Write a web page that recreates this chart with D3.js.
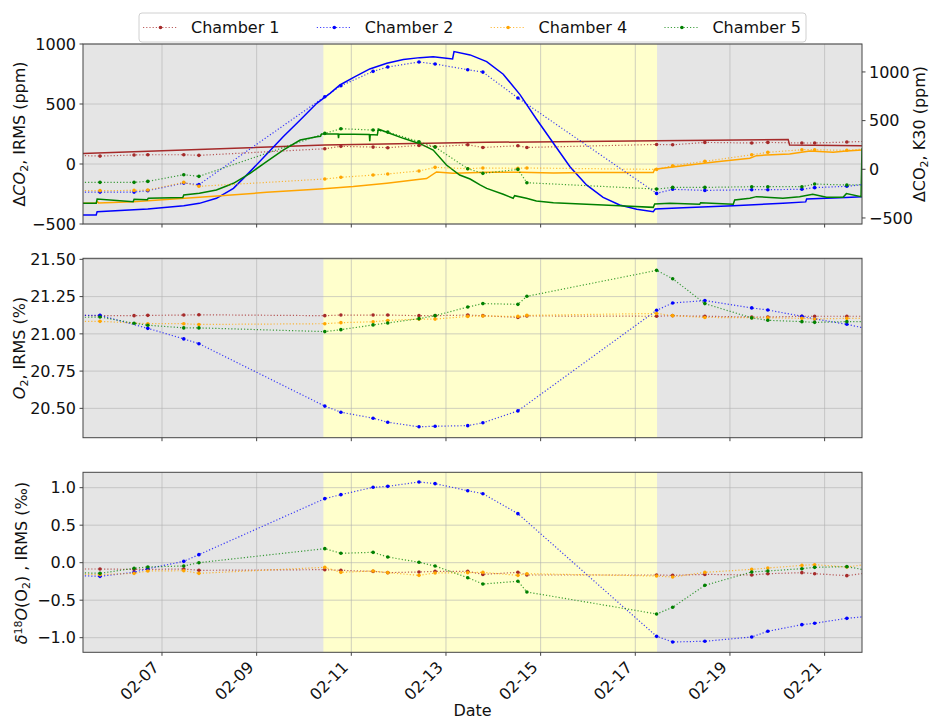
<!DOCTYPE html>
<html><head><meta charset="utf-8">
<script src="https://cdn.jsdelivr.net/npm/d3@7"></script>
<style>body{margin:0;background:#fff;} svg{display:block;font-family:"DejaVu Sans",sans-serif;}</style>
</head><body><svg id="c" width="931" height="719"></svg>
<script>
// ---------------- DATA ----------------
const chambers = ["Chamber 1", "Chamber 2", "Chamber 4", "Chamber 5"];
const chamberColors = ["#a52a2a", "#0000ff", "#ffa500", "#008000"];
// sample times (fractional day of February); first and last lie just outside the view
const sampleDays = [5.1, 5.69, 6.41, 6.70, 7.46, 7.78, 10.44, 10.78, 11.46, 11.77, 12.43, 12.77, 13.46, 13.78, 14.52, 14.71, 17.45, 17.79, 18.47, 19.46, 19.80, 20.52, 20.79, 21.47, 22.1];
// ΔCO2 IRMS (ppm)
const co2Irms1 = [72, 66, 75, 77, 77, 72, 127, 147, 141, 136, 155, 144, 160, 138, 152, 138, 163, 160, 180, 175, 180, 175, 175, 183, 192];
const co2Irms2 = [-234, -234, -234, -222, -159, -172, 561, 652, 772, 808, 850, 833, 786, 766, 550, null, -245, -211, -220, -214, -214, -211, -197, -186, -160];
const co2Irms4 = [-220, -222, -220, -217, -153, -186, -125, -111, -92, -83, -58, -28, -39, -33, -36, -33, -45, -14, 22, 77, 97, 119, 119, 114, 135];
const co2Irms5 = [-153, -153, -153, -145, -89, -103, 255, 294, 283, 266, 186, 141, -39, -78, -45, -156, -209, -195, -195, -189, -189, -189, -167, -175, -170];
// O2 IRMS (%)
const o2Irms1 = [21.125, 21.122, 21.122, 21.124, 21.126, 21.128, 21.122, 21.126, 21.126, 21.126, 21.122, 21.122, 21.126, 21.122, 21.110, 21.120, 21.118, 21.122, 21.118, 21.113, 21.113, 21.118, 21.118, 21.118, 21.118];
const o2Irms2 = [21.125, 21.124, null, 21.037, 20.966, 20.934, 20.515, 20.474, 20.434, 20.407, 20.376, 20.380, 20.384, 20.403, 20.483, null, 21.158, 21.207, 21.223, 21.174, 21.160, 21.118, 21.100, 21.064, 21.020];
const o2Irms4 = [21.084, 21.084, null, 21.068, 21.068, 21.063, 21.068, 21.075, 21.081, 21.090, 21.099, 21.099, 21.117, 21.120, 21.117, 21.124, 21.137, 21.122, 21.110, 21.108, 21.108, 21.104, 21.100, 21.104, 21.104];
const o2Irms5 = [21.110, 21.113, 21.071, 21.058, 21.040, 21.040, 21.015, 21.028, 21.060, 21.073, 21.102, 21.122, 21.180, 21.203, 21.198, 21.252, 21.426, 21.370, 21.203, 21.107, 21.091, 21.082, 21.077, 21.082, 21.082];
// δ18O(O2) IRMS (‰)
const d18o1 = [-0.084, -0.084, -0.090, -0.090, -0.084, -0.102, -0.093, -0.102, -0.116, -0.133, -0.124, -0.116, -0.116, -0.156, -0.129, -0.164, -0.164, -0.169, -0.156, -0.164, -0.147, -0.133, -0.147, -0.173, -0.120];
const d18o2 = [-0.170, -0.182, -0.128, -0.080, 0.018, 0.107, 0.854, 0.907, 1.005, 1.018, 1.076, 1.054, 0.960, 0.920, 0.654, null, -0.982, -1.057, -1.048, -0.991, -0.915, -0.826, -0.808, -0.742, -0.705];
const d18o4 = [-0.150, -0.160, -0.142, -0.111, -0.107, -0.142, -0.062, -0.129, -0.111, -0.133, -0.169, -0.138, -0.133, -0.129, -0.169, -0.147, -0.178, -0.191, -0.129, -0.089, -0.071, -0.036, -0.027, -0.058, -0.005];
const d18o5 = [-0.130, -0.142, -0.075, -0.057, -0.044, 0.000, 0.187, 0.125, 0.138, 0.076, 0.005, -0.044, -0.200, -0.284, -0.248, -0.391, -0.684, -0.595, -0.302, -0.124, -0.111, -0.080, -0.062, -0.053, -0.125];
// ΔCO2 K30 (ppm), continuous sensor records
const k30Days1 = [5.331, 10.44, 13.86, 17.45, 20.23, 20.26, 21.79];
const k30Vals1 = [161, 250, 277, 292, 305, 250, 243];
const k30Days2 = [5.331, 5.61, 5.63, 6.70, 7.46, 7.79, 8.15, 8.51, 8.86, 9.21, 9.56, 9.92, 10.27, 10.55, 10.76, 11.04, 11.39, 11.75, 12.10, 12.45, 12.73, 13.14, 13.17, 13.51, 13.86, 14.21, 14.56, 14.91, 15.27, 15.62, 15.97, 16.32, 16.67, 17.03, 17.38, 17.42, 18.01, 19.07, 20.12, 20.60, 20.62, 21.45, 21.79];
const k30Vals2 = [-470, -470, -435, -408, -374, -350, -298, -196, -24, 154, 335, 507, 678, 780, 866, 942, 1031, 1089, 1127, 1147, 1155, 1134, 1209, 1175, 1106, 976, 770, 517, 267, 27, -161, -288, -367, -411, -435, -408, -394, -374, -350, -335, -305, -290, -281];
const k30Days4 = [5.331, 5.61, 5.63, 5.66, 6.39, 7.79, 9.21, 10.34, 11.04, 11.75, 12.45, 12.59, 12.80, 13.15, 13.86, 14.56, 15.27, 15.97, 17.38, 17.41, 18.01, 18.72, 19.42, 19.56, 19.77, 20.26, 20.69, 21.18, 21.46, 21.79];
const k30Vals4 = [-350, -350, -330, -345, -333, -288, -237, -202, -178, -144, -103, -95, -27, -41, -31, -31, -38, -34, -34, 0, 37, 78, 113, 140, 147, 157, 188, 174, 188, 198];
const k30Days5 = [5.331, 5.61, 5.63, 6.39, 6.41, 6.69, 6.71, 7.44, 7.46, 7.79, 8.15, 8.51, 8.86, 9.21, 9.56, 9.92, 10.27, 10.35, 10.37, 10.72, 10.73, 10.74, 11.38, 11.39, 11.40, 11.55, 11.57, 11.75, 12.10, 12.45, 12.73, 13.01, 13.29, 13.51, 13.72, 13.86, 14.21, 14.42, 14.45, 14.70, 14.91, 15.27, 15.97, 16.67, 17.38, 17.41, 17.73, 18.36, 18.38, 19.07, 19.10, 19.42, 19.56, 20.12, 20.47, 20.75, 21.04, 21.39, 21.46, 21.77, 21.79];
const k30Vals5 = [-350, -350, -305, -333, -309, -312, -298, -291, -264, -247, -213, -144, -41, 78, 198, 301, 335, 340, 363, 363, 320, 363, 358, 288, 358, 352, 414, 380, 318, 263, 198, 44, -59, -100, -161, -196, -257, -298, -271, -298, -326, -343, -360, -374, -391, -357, -350, -360, -343, -360, -316, -298, -281, -298, -281, -257, -288, -288, -250, -281, 215];
// axes
const xTickDays = [7, 9, 11, 13, 15, 17, 19, 21];
const viewDays = [5.331, 21.79];
const lightDays = [10.41, 17.46];
const co2LeftTicks = [-500, 0, 500, 1000];
const co2RightTicks = [-500, 0, 500, 1000];
const o2Ticks = [20.50, 20.75, 21.00, 21.25, 21.50];
const d18Ticks = [-1.0, -0.5, 0.0, 0.5, 1.0];

// ---------------- DRAW ----------------
const svg = d3.select("#c");
const base = Date.UTC(2021, 1, 1);
const toDate = d => new Date(base + (d - 1) * 864e5);
const L = 83, R = 862;
const x = d3.scaleUtc().domain(viewDays.map(toDate)).range([L, R]);
const minus = s => String(s).replace("-", "\u2212");
const gridColor = "#b0b0b0", spineColor = "#444";

const panels = [
  {top: 44, bottom: 224, domain: [-500, 1000], ticks: co2LeftTicks, fmt: d => minus(d),
   series: [co2Irms1, co2Irms2, co2Irms4, co2Irms5]},
  {top: 258.3, bottom: 437.7, domain: [20.303, 21.507], ticks: o2Ticks, fmt: d => d.toFixed(2),
   series: [o2Irms1, o2Irms2, o2Irms4, o2Irms5]},
  {top: 472.3, bottom: 652.3, domain: [-1.195, 1.205], ticks: d18Ticks, fmt: d => minus(d.toFixed(1)),
   series: [d18o1, d18o2, d18o4, d18o5]}
];

panels.forEach((p, pi) => {
  const y = d3.scaleLinear().domain(p.domain).range([p.bottom, p.top]);
  const g = svg.append("g");
  const cid = "clip" + pi;
  svg.append("clipPath").attr("id", cid).append("rect")
    .attr("x", L).attr("y", p.top).attr("width", R - L).attr("height", p.bottom - p.top);
  g.append("rect").attr("x", L).attr("y", p.top).attr("width", R - L).attr("height", p.bottom - p.top).attr("fill", "#e5e5e5");
  g.append("rect").attr("x", x(toDate(lightDays[0]))).attr("y", p.top)
    .attr("width", x(toDate(lightDays[1])) - x(toDate(lightDays[0]))).attr("height", p.bottom - p.top).attr("fill", "#ffffcc");
  // grid
  xTickDays.forEach(d => g.append("line").attr("x1", x(toDate(d))).attr("x2", x(toDate(d)))
    .attr("y1", p.top).attr("y2", p.bottom).attr("stroke", gridColor).attr("stroke-opacity", 0.6).attr("stroke-width", 1));
  p.ticks.forEach(t => g.append("line").attr("x1", L).attr("x2", R).attr("y1", y(t)).attr("y2", y(t))
    .attr("stroke", gridColor).attr("stroke-opacity", 0.6).attr("stroke-width", 1));

  const plot = g.append("g").attr("clip-path", `url(#${cid})`);
  if (pi === 0) {
    const yr = d3.scaleLinear().domain([-562, 1287]).range([p.bottom, p.top]);
    const k30 = [[k30Days1, k30Vals1], [k30Days2, k30Vals2], [k30Days4, k30Vals4], [k30Days5, k30Vals5]];
    k30.forEach(([ds, vs], ci) => {
      const pts = ds.map((d, i) => ({t: toDate(d), v: vs[i]}));
      plot.append("path").datum(pts)
        .attr("d", d3.line().x(d => x(d.t)).y(d => yr(d.v)))
        .attr("fill", "none").attr("stroke", chamberColors[ci]).attr("stroke-width", 1.5);
    });
    // right axis
    const ra = g.append("g");
    co2RightTicks.forEach(t => {
      ra.append("line").attr("x1", R).attr("x2", R + 3.5).attr("y1", yr(t)).attr("y2", yr(t)).attr("stroke", spineColor);
      ra.append("text").attr("x", R + 7).attr("y", yr(t)).attr("dy", "0.36em").attr("font-size", 16).attr("fill", "#111").text(minus(t));
    });
  }
  p.series.forEach((vals, ci) => {
    const pts = sampleDays.map((d, i) => ({t: toDate(d), v: vals[i]})).filter(d => d.v !== null);
    plot.append("path").datum(pts)
      .attr("d", d3.line().x(d => x(d.t)).y(d => y(d.v)))
      .attr("fill", "none").attr("stroke", chamberColors[ci]).attr("stroke-width", 1.2)
      .attr("stroke-dasharray", "1.2,2").attr("stroke-opacity", 0.75);
    plot.selectAll(null).data(pts).enter().append("circle")
      .attr("cx", d => x(d.t)).attr("cy", d => y(d.v)).attr("r", 1.8).attr("fill", chamberColors[ci]);
  });
  // spines
  g.append("rect").attr("x", L).attr("y", p.top).attr("width", R - L).attr("height", p.bottom - p.top)
    .attr("fill", "none").attr("stroke", spineColor).attr("stroke-width", 1);
  // left ticks
  p.ticks.forEach(t => {
    g.append("line").attr("x1", L - 3.5).attr("x2", L).attr("y1", y(t)).attr("y2", y(t)).attr("stroke", spineColor);
    g.append("text").attr("x", L - 7).attr("y", y(t)).attr("dy", "0.36em").attr("text-anchor", "end")
      .attr("font-size", 16).attr("fill", "#111").text(p.fmt(t));
  });
  // bottom ticks
  xTickDays.forEach(d => g.append("line").attr("x1", x(toDate(d))).attr("x2", x(toDate(d)))
    .attr("y1", p.bottom).attr("y2", p.bottom + 3.5).attr("stroke", spineColor));
  if (pi === 2) {
    const fmt = d3.utcFormat("%m-%d");
    xTickDays.forEach(d => {
      g.append("text").attr("transform", `translate(${x(toDate(d)) - 2},${p.bottom + 16}) rotate(-45)`)
        .attr("text-anchor", "end").attr("font-size", 16).attr("fill", "#111").text(fmt(toDate(d)));
    });
  }
  p.y = y;
});

// axis labels
function ylab(xp, yp, parts) {
  const t = svg.append("text").attr("transform", `translate(${xp},${yp}) rotate(-90)`)
    .attr("text-anchor", "middle").attr("font-size", 16).attr("fill", "#111");
  parts.forEach(([s, style]) => {
    const ts = t.append("tspan").text(s);
    if (style === "i") ts.attr("font-style", "italic");
    if (style === "sub") ts.attr("font-size", 11).attr("baseline-shift", "-25%");
    if (style === "sup") ts.attr("font-size", 11).attr("baseline-shift", "45%");
  });
}
ylab(25, 134, [["Δ", ""], ["CO", "i"], ["2", "sub"], [", IRMS (ppm)", ""]]);
ylab(925, 134, [["ΔCO", ""], ["2", "sub"], [", K30 (ppm)", ""]]);
ylab(25, 348, [["O", "i"], ["2", "sub"], [", IRMS (%)", ""]]);
ylab(27, 563, [["δ", "i"], ["18", "sup"], ["O", "i"], ["(O", ""], ["2", "sub"], [")  , IRMS (‰)", ""]]);
svg.append("text").attr("x", (L + R) / 2).attr("y", 716).attr("text-anchor", "middle")
  .attr("font-size", 16).attr("fill", "#111").text("Date");

// legend
const lg = svg.append("g");
lg.append("rect").attr("x", 139).attr("y", 13).attr("width", 667).attr("height", 29).attr("rx", 3)
  .attr("fill", "#fff").attr("fill-opacity", 0.85).attr("stroke", "#d0d0d0");
chambers.forEach((c, i) => {
  const x0 = 143 + i * 173.8;
  lg.append("line").attr("x1", x0).attr("x2", x0 + 35).attr("y1", 27.5).attr("y2", 27.5)
    .attr("stroke", chamberColors[i]).attr("stroke-width", 1.2).attr("stroke-dasharray", "1.2,2").attr("stroke-opacity", 0.75);
  lg.append("circle").attr("cx", x0 + 17.5).attr("cy", 27.5).attr("r", 1.8).attr("fill", chamberColors[i]);
  lg.append("text").attr("x", x0 + 48).attr("y", 33.3).attr("font-size", 16).attr("fill", "#111").text(c);
});
</script>
</body></html>
